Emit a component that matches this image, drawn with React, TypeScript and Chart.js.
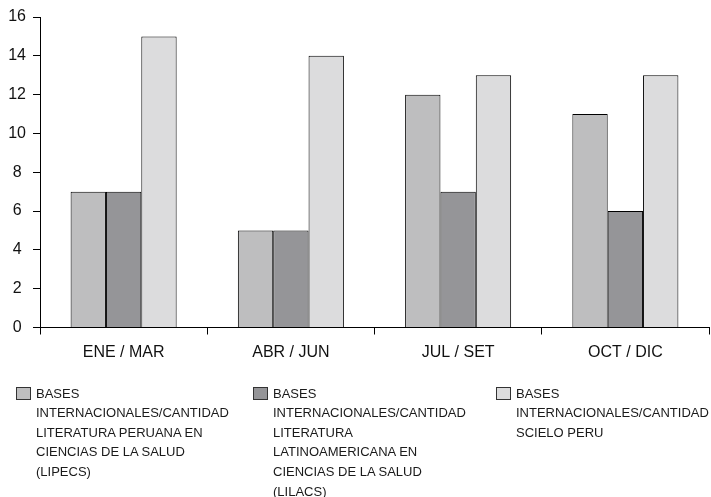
import React, { useEffect, useRef } from "react";
import { Chart, registerables } from "chart.js";

Chart.register(...registerables);

const categories = ["ENE / MAR", "ABR / JUN", "JUL / SET", "OCT / DIC"];
const lipecs = [7, 5, 12, 11];
const lilacs = [7, 5, 7, 6];
const scielo = [15, 14, 13, 13];
const yTicks = [0, 2, 4, 6, 8, 10, 12, 14, 16];

const seriesLabels = [
  ["BASES", "INTERNACIONALES/CANTIDAD", "LITERATURA PERUANA EN", "CIENCIAS DE LA SALUD", "(LIPECS)"],
  ["BASES", "INTERNACIONALES/CANTIDAD", "LITERATURA", "LATINOAMERICANA EN", "CIENCIAS DE LA SALUD", "(LILACS)"],
  ["BASES", "INTERNACIONALES/CANTIDAD", "SCIELO PERU"],
];
const colors = ["#bebebf", "#959598", "#dcdcdd"];

const FONT = "'Liberation Sans', Arial, Helvetica, sans-serif";

export default function App() {
  const ref = useRef<HTMLCanvasElement | null>(null);

  useEffect(() => {
    const canvas = ref.current;
    if (!canvas) return;
    const mk = (label: string, data: number[], color: string) => ({
      label,
      data,
      backgroundColor: color,
      borderColor: "#000",
      borderWidth: 1,
      categoryPercentage: 0.634,
      barPercentage: 1,
    });
    const chart = new Chart(canvas, {
      type: "bar",
      data: {
        labels: categories,
        datasets: [
          mk(seriesLabels[0].join(" "), lipecs, colors[0]),
          mk(seriesLabels[1].join(" "), lilacs, colors[1]),
          mk(seriesLabels[2].join(" "), scielo, colors[2]),
        ],
      },
      options: {
        animation: false,
        responsive: false,
        devicePixelRatio: 1,
        layout: { padding: { top: 17, right: 2, left: 0, bottom: 129.5 } },
        plugins: { legend: { display: false }, tooltip: { enabled: false } },
        scales: {
          x: {
            afterFit: (s: any) => {
              s.height = 40;
            },
            border: { display: true, color: "#000", width: 1 },
            grid: {
              display: true,
              drawOnChartArea: false,
              drawTicks: true,
              tickLength: 7,
              color: "#000",
              offset: true,
            },
            ticks: {
              color: "#111",
              font: { family: FONT, size: 16 },
              padding: 8,
            },
          },
          y: {
            min: 0,
            max: 16,
            afterFit: (s: any) => {
              s.width = 40;
            },
            afterBuildTicks: (s: any) => {
              s.ticks = yTicks.map((v) => ({ value: v }));
            },
            border: { display: true, color: "#000", width: 1 },
            grid: {
              display: true,
              drawOnChartArea: false,
              drawTicks: true,
              tickLength: 7,
              color: "#000",
            },
            ticks: {
              color: "#111",
              font: { family: FONT, size: 16 },
              padding: 7,
              crossAlign: "center",
            },
          },
        },
      },
    } as any);
    return () => chart.destroy();
  }, []);

  const legendPos = [
    { box: 16, text: 36 },
    { box: 253, text: 273 },
    { box: 496, text: 516 },
  ];

  return (
    <div style={{ position: "absolute", left: 0, top: 0, width: 711, height: 497, background: "#fff", overflow: "hidden" }}>
      <canvas ref={ref} width={711} height={497} style={{ position: "absolute", left: 0, top: 0, width: 711, height: 497 }} />
      {legendPos.map((p, i) => (
        <React.Fragment key={i}>
          <div
            style={{
              position: "absolute",
              left: p.box,
              top: 387,
              width: 15,
              height: 13,
              boxSizing: "border-box",
              border: "1px solid #333",
              background: colors[i],
            }}
          />
          <div
            style={{
              position: "absolute",
              left: p.text,
              top: 383.7,
              fontFamily: FONT,
              fontSize: 13,
              lineHeight: "19.6px",
              color: "#1a1a1a",
              whiteSpace: "nowrap",
            }}
          >
            {seriesLabels[i].map((line, j) => (
              <div key={j}>{line}</div>
            ))}
          </div>
        </React.Fragment>
      ))}
    </div>
  );
}
